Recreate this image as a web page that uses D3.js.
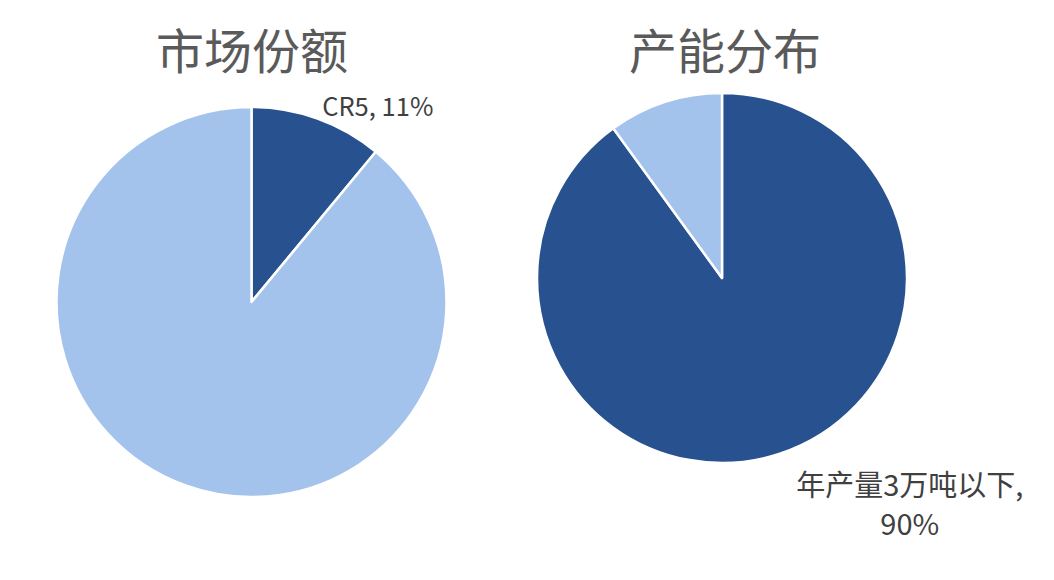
<!DOCTYPE html>
<html>
<head>
<meta charset="utf-8">
<script src="https://cdn.jsdelivr.net/npm/d3@7"></script>
<style>
	body { margin: 0; background: #fff; }
	text { font-family: "Noto Sans CJK SC", "Noto Sans", sans-serif; }
</style>
</head>
<body>
<script>
// data
var shareTitle = "市场份额";
var shareLabels = ["CR5", "其他"];
var shareValues = [11, 89];

var capTitle = "产能分布";
var capLabels = ["年产量3万吨以下", "其他"];
var capValues = [90, 10];

var colors = ["#27518F", "#A3C3ED"];

var width = 1054, height = 580;

var svg = d3.select("body").append("svg")
	.attr("width", width)
	.attr("height", height);

function drawPie(opts) {
	var data = opts.values.map(function (v, i) { return { label: opts.labels[i], value: v }; });

	var pie = d3.pie()
		.value(function (d) { return d.value; })
		.sort(null);
	var arc = d3.arc().innerRadius(0).outerRadius(opts.r);

	var g = svg.append("g")
		.attr("transform", "translate(" + opts.cx + "," + opts.cy + ")");

	g.selectAll("path")
		.data(pie(data))
		.enter()
		.append("path")
		.attr("d", arc)
		.attr("fill", function (d, i) { return colors[i]; })
		.attr("stroke", "#fff")
		.attr("stroke-width", 2.5)
		.attr("stroke-linejoin", "round");

	// title
	svg.append("text")
		.attr("x", opts.titleX)
		.attr("y", 69)
		.attr("text-anchor", "middle")
		.attr("font-size", "48px")
		.attr("fill", "#5a5a5a")
		.text(opts.title);

	return { g: g, arcs: pie(data), arc: arc };
}

var left = drawPie({ cx: 251.5, cy: 302, r: 195, titleX: 252, title: shareTitle, labels: shareLabels, values: shareValues });
var right = drawPie({ cx: 722, cy: 278, r: 185, titleX: 725, title: capTitle, labels: capLabels, values: capValues });

// label for CR5 slice: placed just outside its middle angle
var a0 = left.arcs[0];
var outer = d3.arc().innerRadius(195 * 1.1).outerRadius(195 * 1.1);
var p = outer.centroid(a0);
left.g.append("text")
	.attr("x", p[0] - 2)
	.attr("y", p[1] + 16)
	.attr("font-size", "25.5px")
	.attr("fill", "#404040")
	.text(a0.data.label + ", " + a0.data.value + "%");

// label for the 90% slice, below right of the pie
var b0 = right.arcs[0];
var lbl = right.g.append("text")
	.attr("text-anchor", "middle")
	.attr("font-size", "29px")
	.attr("fill", "#404040");
lbl.append("tspan")
	.attr("x", 185 * 1.015)
	.attr("y", 185 * 1.18)
	.text(b0.data.label + ",");
lbl.append("tspan")
	.attr("x", 185 * 1.015)
	.attr("y", 185 * 1.39)
	.text(b0.data.value + "%");
</script>
</body>
</html>
